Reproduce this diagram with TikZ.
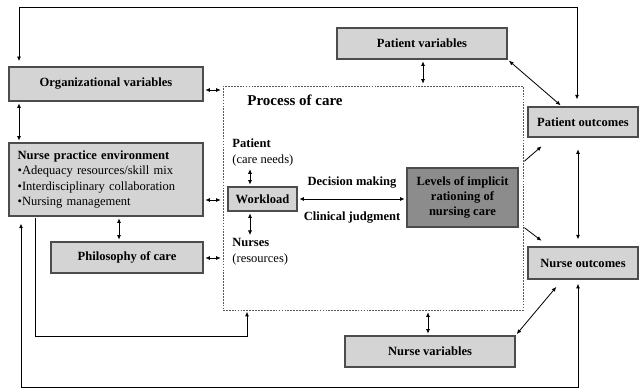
\documentclass[tikz,border=0pt]{standalone}
\usepackage{fontspec}
\setmainfont{Liberation Serif}
\usepackage{tikz}
\usetikzlibrary{arrows.meta,calc,positioning}

\newcommand{\fs}{\fontsize{10.7}{13.2}\selectfont}
\tikzset{
  box/.style={draw=black!70, line width=0.9pt, fill=black!17, font=\fs\bfseries, inner sep=2pt},
  lbl/.style={font=\fs, inner sep=1pt},
  lnk/.style={<->, line width=0.7pt, shorten <=1.5pt, shorten >=1.5pt},
  one/.style={->, line width=0.7pt, shorten <=1pt, shorten >=1pt}
}

\begin{document}
\begin{tikzpicture}[x=0.03cm, y=-0.03cm, >={Latex[length=4pt,width=3.4pt]}]
      \useasboundingbox (0,0) rectangle (643,389);
      % process of care frame
      \node[draw=black!65, line width=0.8pt, dash pattern=on 1.5pt off 1pt, minimum width=9cm, minimum height=6.72cm] (proc) at (373,198) {};
      \node[font=\fontsize{12.8}{15}\selectfont\bfseries] (proctitle) at (295,100) {Process of care};
      % boxes
      \node[box, minimum width=5.82cm, minimum height=1.02cm] (org) at (106,84) {Organizational variables};
      \node[box, font=\fs, minimum width=5.82cm, minimum height=2.19cm, text width=5.3cm, inner xsep=0.24cm, align=left] (npe) at (106,179.5) {\textbf{Nurse practice environment}\\•Adequacy resources/skill mix\\•Interdisciplinary collaboration\\•Nursing management};
      \node[box, minimum width=4.56cm, minimum height=0.93cm] (phil) at (127,257.5) {Philosophy of care};
      \node[box, minimum width=5.1cm, minimum height=0.93cm] (patvar) at (422,43.5) {Patient variables};
      \node[box, minimum width=3.3cm, minimum height=0.9cm] (patout) at (583,122) {Patient outcomes};
      \node[box, minimum width=3.3cm, minimum height=0.96cm] (nurout) at (583,263) {Nurse outcomes};
      \node[box, minimum width=5.1cm, minimum height=0.93cm] (nurvar) at (430,351.5) {Nurse variables};
      \node[box, minimum width=2.07cm, minimum height=0.72cm] (work) at (262.5,199) {Workload};
      \node[box, fill=black!45, align=center, minimum width=3.33cm, minimum height=1.77cm] (levels) at (462.5,197.5) {Levels of implicit\\rationing of\\nursing care};
      % labels inside the frame
      \node[lbl, align=left, anchor=west] (patlbl) at (231,152.5) {\textbf{Patient}\\(care needs)};
      \node[lbl, align=left, anchor=west] (nurlbl) at (231,251.5) {\textbf{Nurses}\\(resources)};
      \node[font=\fs\bfseries] (decide) at (352,183) {Decision making};
      \node[font=\fs\bfseries] (judge) at (352,218) {Clinical judgment};
      % connectors
      \draw[lnk] (org.south -| 19,0) -- (npe.north -| 19,0);
      \draw[lnk] (org.east |- 0,90) -- (proc.west |- 0,90);
      \draw[lnk] (npe.east |- 0,200) -- (proc.west |- 0,200);
      \draw[lnk] (phil.east |- 0,258) -- (proc.west |- 0,258);
      \draw[lnk] (npe.south -| 119,0) -- (phil.north -| 119,0);
      \draw[one] (npe.south -| 35,0) -- (35,336) -| (proc.south -| 247,0);
      \draw[lnk, shorten <=3.5pt, shorten >=6pt] (nurout.south -| 578,0) -- (578,387.5) -| (npe.south -| 21,0);
      \draw[lnk, shorten <=6pt, shorten >=4.5pt] (patout.north -| 577,0) -- (577,7) -| (org.north -| 19,0);
      \draw[lnk] (patvar.south -| 423,0) -- (proc.north -| 423,0);
      \draw[lnk] (proc.south -| 428,0) -- (nurvar.north -| 428,0);
      \draw[lnk] (patvar.south east) -- (patout.north -| 562,0);
      \draw[one] (proc.east |- 0,162) -- ($(patout.south west)+(15,8)$);
      \draw[one] (proc.east |- 0,227) -- ($(nurout.north west)+(15,-5)$);
      \draw[lnk, shorten <=10pt, shorten >=6pt] (patout.south -| 578,0) -- (nurout.north -| 578,0);
      \draw[lnk] ($(nurout.south west)+(30,6)$) -- (nurvar.north east);
      \draw[lnk] (work.east) -- (levels.west |- work.east);
      \draw[lnk] (patlbl.south -| 250,0) -- (work.north -| 250,0);
      \draw[lnk] (work.south -| 250,0) -- (nurlbl.north -| 250,0);
\end{tikzpicture}
\end{document}
